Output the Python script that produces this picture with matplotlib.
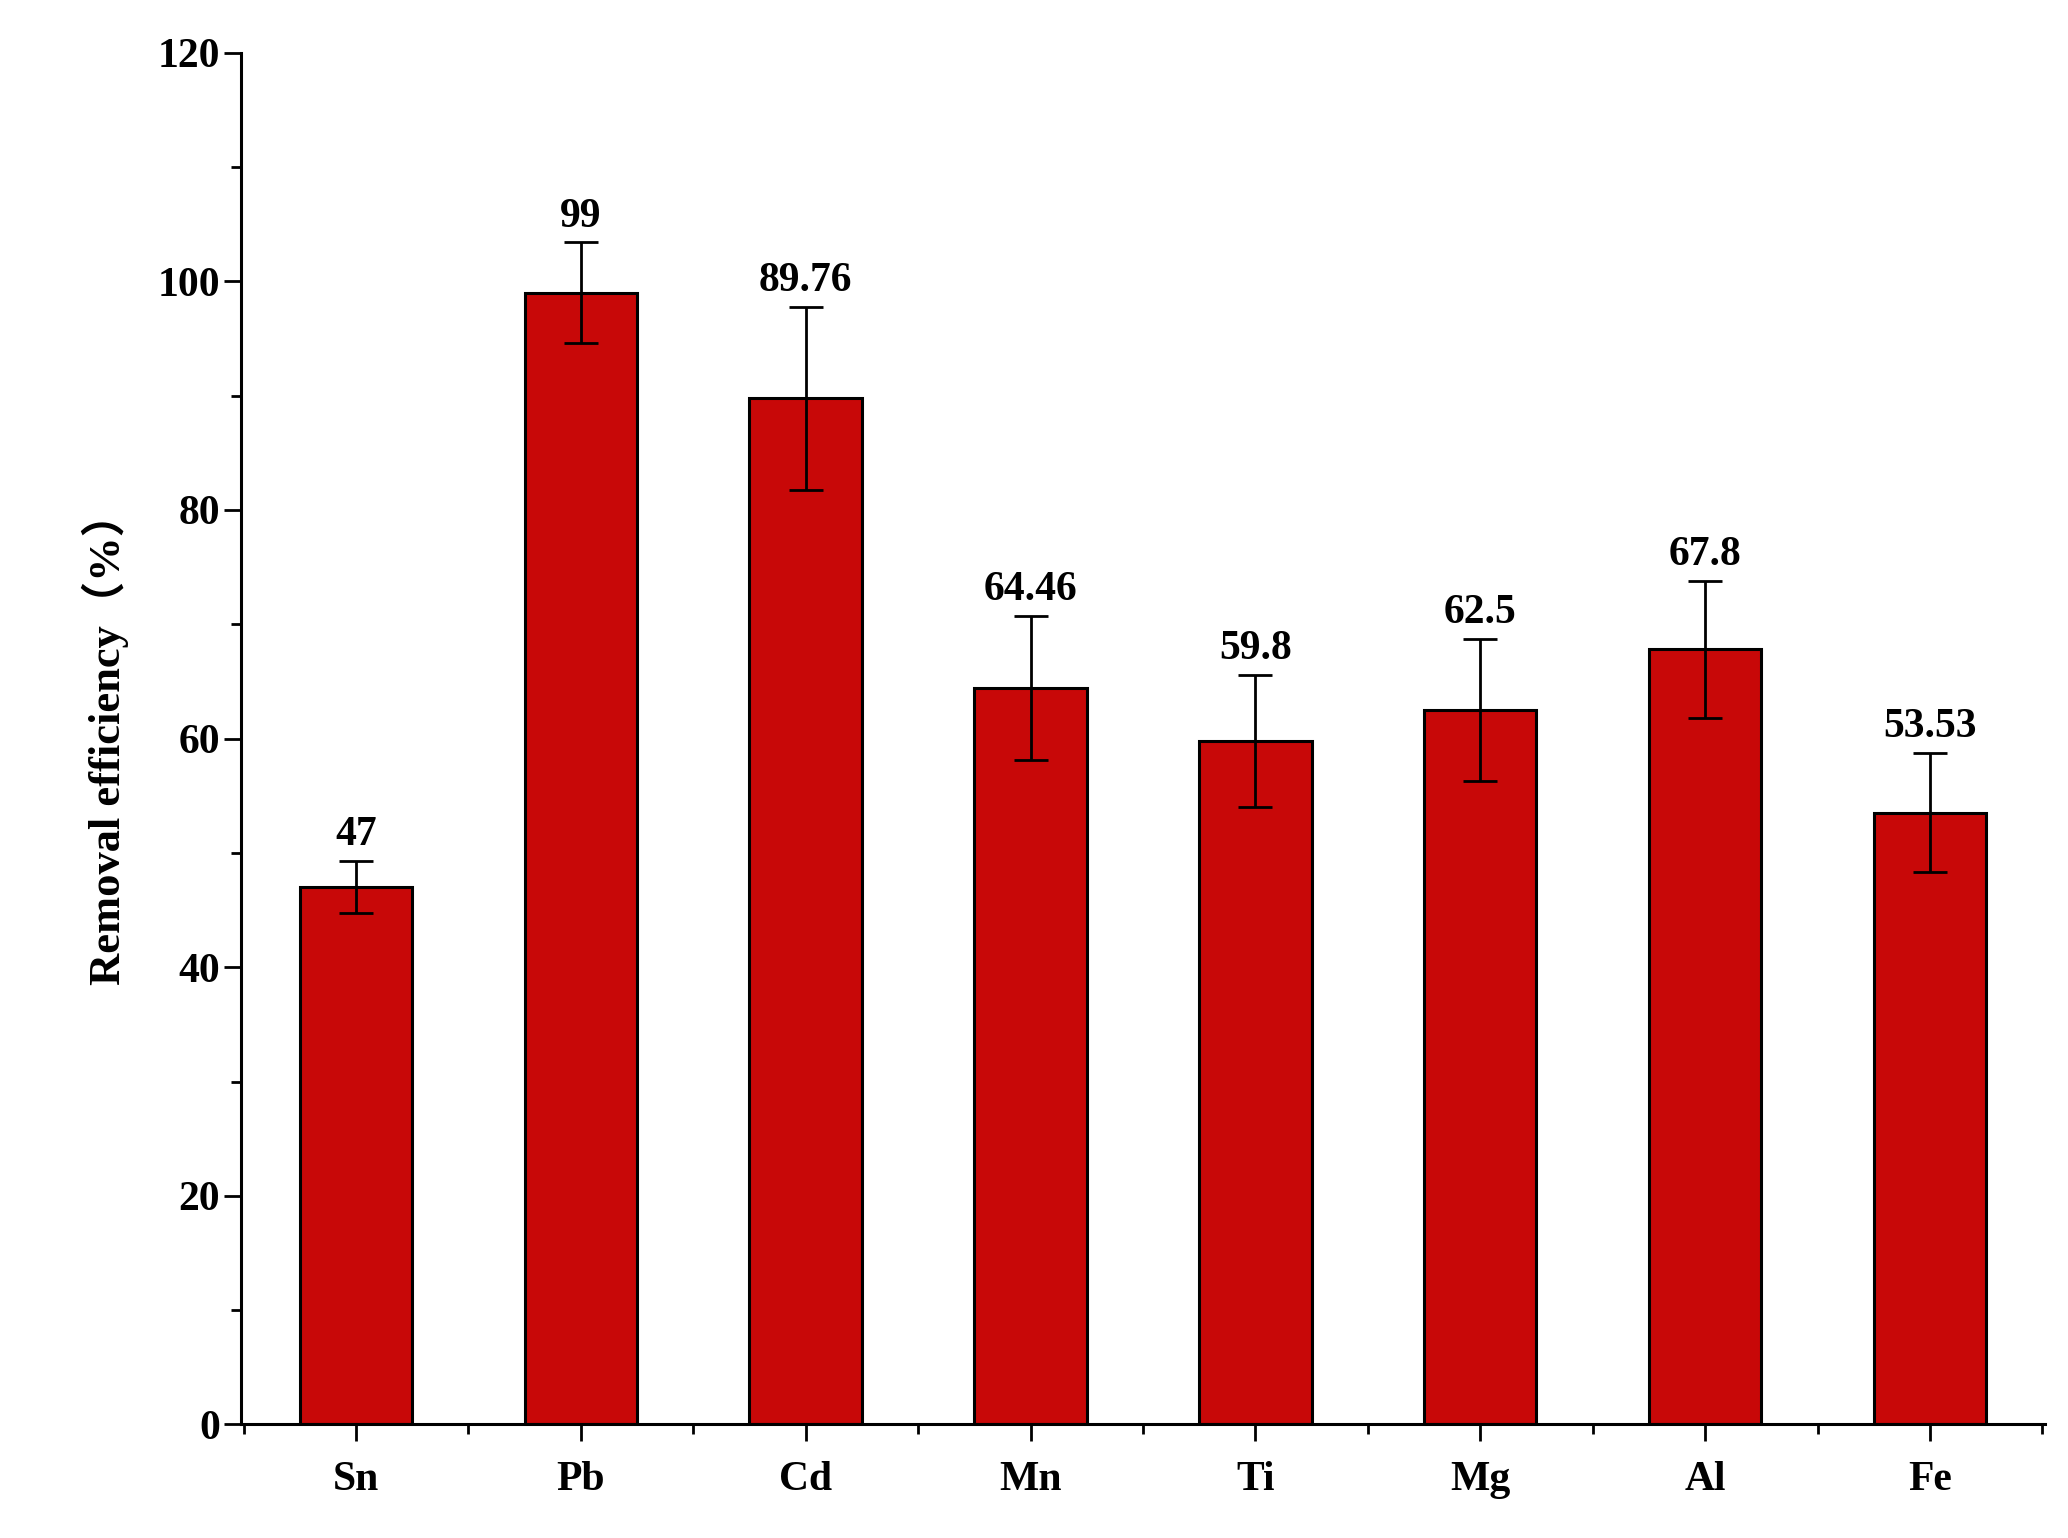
import matplotlib.pyplot as plt
from matplotlib.ticker import MultipleLocator

metals = ["Sn", "Pb", "Cd", "Mn", "Ti", "Mg", "Al", "Fe"]
efficiency = [47, 99, 89.76, 64.46, 59.8, 62.5, 67.8, 53.53]
errors = [2.3, 4.4, 8.0, 6.3, 5.8, 6.2, 6.0, 5.2]
labels = ["47", "99", "89.76", "64.46", "59.8", "62.5", "67.8", "53.53"]

plt.rcParams["font.family"] = ["Liberation Serif", "DejaVu Serif"]
plt.rcParams["font.weight"] = "bold"

fig = plt.figure(figsize=(20.68, 15.38), dpi=100)
ax = fig.add_axes([0.1167, 0.0738, 0.872, 0.892])

x = range(len(metals))
ax.bar(x, efficiency, width=0.5, color="#c80808", edgecolor="black", linewidth=2.2,
       yerr=errors, error_kw=dict(ecolor="black", elinewidth=2, capsize=12, capthick=2))
for xi, v, e, t in zip(x, efficiency, errors, labels):
    ax.text(xi, v + e + 0.6, t, ha="center", va="bottom", fontsize=30, fontweight="bold")

ax.set_xlim(-0.51, 7.51)
ax.set_ylim(0, 120)
ax.yaxis.set_major_locator(MultipleLocator(20))
ax.yaxis.set_minor_locator(MultipleLocator(10))
ax.set_xticks(list(x))
ax.set_xticklabels(metals)
ax.set_xticks([i + 0.5 for i in range(-1, 8)], minor=True)
ax.tick_params(axis="both", which="major", direction="out", length=12, width=2, labelsize=30)
ax.tick_params(axis="both", which="minor", direction="out", length=7, width=2)
ax.tick_params(axis="x", pad=14)
for lab in ax.get_xticklabels() + ax.get_yticklabels():
    lab.set_fontweight("bold")
for s in ["top", "right"]:
    ax.spines[s].set_visible(False)
for s in ["left", "bottom"]:
    ax.spines[s].set_linewidth(2.2)
ax.set_ylabel("Removal efficiency（%）", fontsize=32, fontweight="bold", labelpad=20,
              family=["Liberation Serif", "Noto Sans CJK SC"])

fig.savefig("out.png", dpi=100)
